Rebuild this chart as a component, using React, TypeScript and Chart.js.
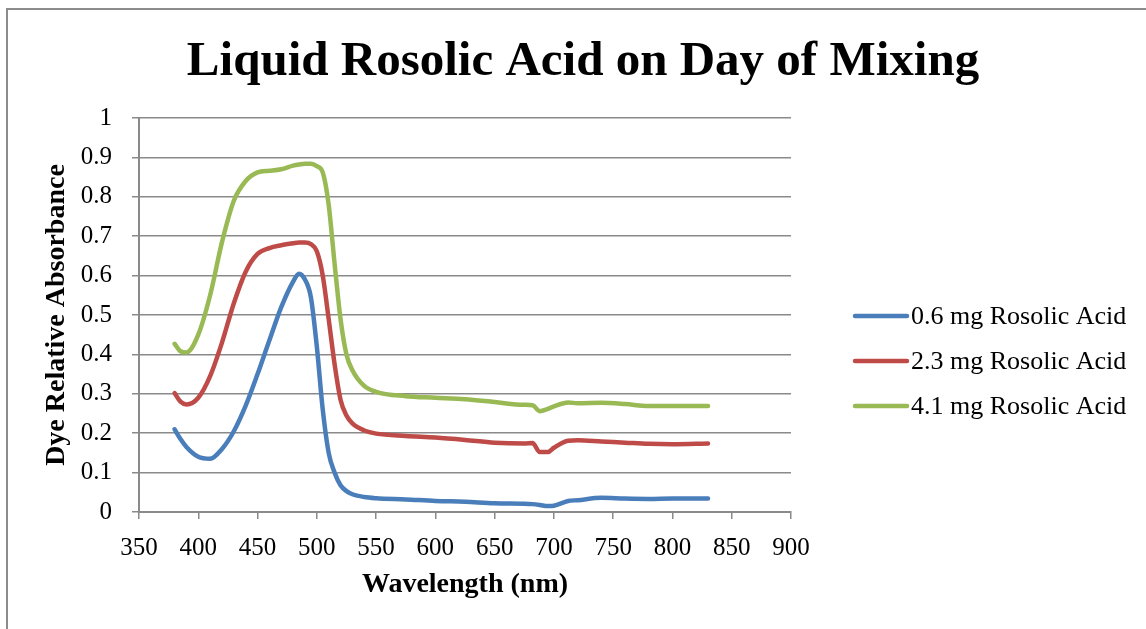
import React, { useEffect, useRef } from "react";
import { Chart, registerables } from "chart.js";

Chart.register(...registerables);

// ---- Data ----
const wavelengths = [
  380, 385, 390, 400, 410, 420, 430, 440, 450, 460, 470, 480, 485, 490, 495, 500,
  505, 510, 515, 520, 525, 530, 540, 550, 575, 600, 625, 650, 675, 682, 688, 695,
  700, 712, 720, 740, 760, 780, 800, 830,
];
const series06 = [
  0.21, 0.185, 0.165, 0.14, 0.135, 0.16, 0.205, 0.27, 0.35, 0.436, 0.52, 0.585, 0.605, 0.59, 0.545, 0.42,
  0.26, 0.15, 0.1, 0.068, 0.053, 0.045, 0.038, 0.035, 0.032, 0.028, 0.026, 0.022, 0.021, 0.02, 0.018, 0.015,
  0.016, 0.028, 0.03, 0.036, 0.034, 0.033, 0.034, 0.034,
];
const series23 = [
  0.302, 0.28, 0.273, 0.29, 0.345, 0.43, 0.53, 0.61, 0.655, 0.67, 0.677, 0.682, 0.684, 0.684, 0.68, 0.662,
  0.6, 0.49, 0.375, 0.285, 0.245, 0.225, 0.207, 0.199, 0.193, 0.189, 0.183, 0.176, 0.174, 0.175, 0.152, 0.152,
  0.163, 0.181, 0.182, 0.179, 0.176, 0.173, 0.172, 0.174,
];
const series41 = [
  0.427, 0.408, 0.405, 0.45, 0.55, 0.685, 0.79, 0.84, 0.862, 0.866, 0.87, 0.879, 0.882, 0.884, 0.884, 0.878,
  0.862, 0.78, 0.63, 0.49, 0.4, 0.36, 0.32, 0.305, 0.294, 0.29, 0.286, 0.279, 0.272, 0.271, 0.256, 0.262,
  0.268, 0.278, 0.276, 0.277, 0.274, 0.269, 0.269, 0.269,
];
const seriesLabels = ["0.6 mg Rosolic Acid", "2.3 mg Rosolic Acid", "4.1 mg Rosolic Acid"];
const seriesColors = ["#4A7EBB", "#BE4B48", "#98B954"];
const yTickLabels = ["0", "0.1", "0.2", "0.3", "0.4", "0.5", "0.6", "0.7", "0.8", "0.9", "1"];
const chartTitle = "Liquid Rosolic Acid on Day of Mixing";
const xAxisTitle = "Wavelength (nm)";
const yAxisTitle = "Dye Relative Absorbance";

const FONT = '"Liberation Serif", "Times New Roman", serif';
const GRID = "#8a8a8a";

const overlayPlugin = {
  id: "overlay",
  afterDraw(chart: any) {
    const ctx = chart.ctx;
    ctx.save();
    ctx.fillStyle = "#000";
    ctx.font = `bold 49px ${FONT}`;
    ctx.textAlign = "center";
    ctx.textBaseline = "alphabetic";
    ctx.fillText(chartTitle, 583, 75);

    ctx.font = `26px ${FONT}`;
    ctx.textAlign = "left";
    ctx.textBaseline = "middle";
    chart.data.datasets.forEach((ds: any, i: number) => {
      const y = 316 + i * 45;
      ctx.strokeStyle = ds.borderColor;
      ctx.lineWidth = 4.5;
      ctx.lineCap = "round";
      ctx.beginPath();
      ctx.moveTo(855, y);
      ctx.lineTo(907, y);
      ctx.stroke();
      ctx.fillStyle = "#000";
      ctx.fillText(ds.label, 911, y + 1);
    });
    ctx.restore();
  },
};

export default function App() {
  const ref = useRef<HTMLCanvasElement>(null);

  useEffect(() => {
    if (!ref.current) return;
    const allSeries = [series06, series23, series41];
    const chart = new Chart(ref.current, {
      type: "line",
      data: {
        datasets: allSeries.map((s, i) => ({
          label: seriesLabels[i],
          data: wavelengths.map((w, j) => ({ x: w, y: s[j] })),
          borderColor: seriesColors[i],
          backgroundColor: seriesColors[i],
          borderWidth: 4.5,
          pointRadius: 0,
          cubicInterpolationMode: "monotone",
          borderCapStyle: "round",
          borderJoinStyle: "round",
        })),
      },
      options: {
        animation: false,
        responsive: false,
        maintainAspectRatio: false,
        layout: { padding: { left: 0, right: 355, top: 118, bottom: 0 } },
        plugins: {
          legend: { display: false },
          title: { display: false },
          tooltip: { enabled: false },
        },
        scales: {
          x: {
            type: "linear",
            min: 350,
            max: 900,
            afterFit: (s: any) => {
              s.height = 117;
            },
            ticks: {
              stepSize: 50,
              color: "#000",
              font: { family: FONT, size: 25 },
              padding: 14,
              maxRotation: 0,
            },
            grid: {
              drawOnChartArea: false,
              drawTicks: true,
              tickLength: 7,
              color: GRID,
              lineWidth: 1.5,
            },
            border: { color: GRID, width: 2 },
            title: {
              display: true,
              text: xAxisTitle,
              color: "#000",
              font: { family: FONT, size: 28, weight: "bold" },
              padding: { top: 0, bottom: 27 },
            },
          },
          y: {
            min: 0,
            max: 1,
            afterFit: (s: any) => {
              s.width = 139;
            },
            ticks: {
              stepSize: 0.1,
              color: "#000",
              font: { family: FONT, size: 25 },
              padding: 20,
              callback: (_v: any, i: number) => yTickLabels[i],
            },
            grid: {
              color: GRID,
              lineWidth: 1.5,
              tickLength: 7,
            },
            border: { color: GRID, width: 2 },
            title: {
              display: true,
              text: yAxisTitle,
              color: "#000",
              font: { family: FONT, size: 28, weight: "bold" },
              padding: { top: 40, bottom: 0 },
            },
          },
        },
      },
      plugins: [overlayPlugin],
    } as any);
    return () => chart.destroy();
  }, []);

  return (
    <div style={{ position: "fixed", left: 0, top: 0, width: 1146, height: 629, overflow: "hidden", background: "#fff" }}>
      <div
        style={{
          position: "absolute",
          left: 6,
          top: 8,
          width: 1300,
          height: 800,
          borderLeft: "2px solid #8c8c8c",
          borderTop: "2px solid #8c8c8c",
        }}
      />
      <canvas
        ref={ref}
        width={1146}
        height={629}
        style={{ position: "absolute", left: 0, top: 0, width: 1146, height: 629 }}
      />
    </div>
  );
}
